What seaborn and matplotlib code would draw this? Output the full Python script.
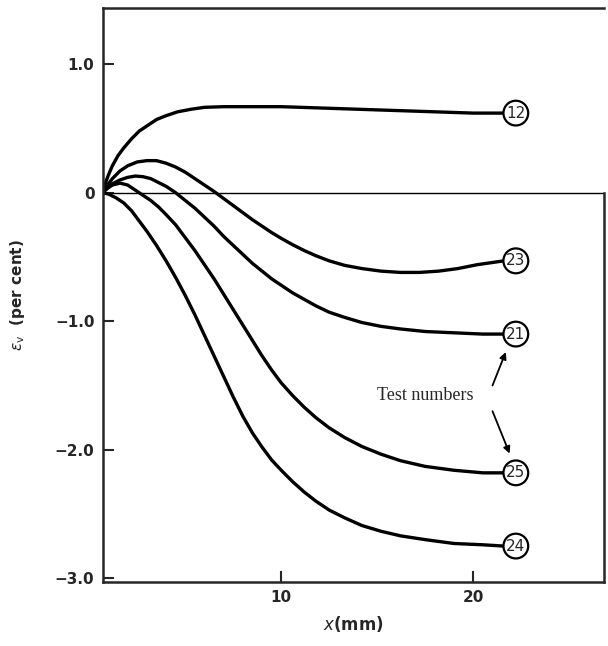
# volumetric strain vs distance, one curve per test, circled test numbers at the ends

import matplotlib
matplotlib.use("Agg")
import matplotlib.pyplot as plt
import pandas as pd
import seaborn as sns

TESTS = ["12", "23", "21", "25", "24"]

x_12 = [0.7, 0.85, 1.0, 1.2, 1.5, 1.8, 2.2, 2.6, 3.0, 3.5, 4.0, 4.6, 5.3, 6.0, 7.0, 8.5, 10.0, 12.0, 14.0, 16.0, 18.0, 20.0, 21.6]
y_12 = [0.0, 0.08, 0.14, 0.21, 0.29, 0.35, 0.42, 0.48, 0.52, 0.57, 0.60, 0.63, 0.65, 0.665, 0.67, 0.67, 0.67, 0.66, 0.65, 0.64, 0.63, 0.62, 0.62]

x_23 = [0.7, 0.9, 1.2, 1.6, 2.0, 2.5, 3.0, 3.5, 4.0, 4.5, 5.0, 5.5, 6.0, 6.5, 7.0, 7.5, 8.0, 8.5, 9.0, 9.5, 10.0,
        10.6, 11.2, 11.8, 12.5, 13.3, 14.2, 15.2, 16.2, 17.2, 18.2, 19.2, 20.2, 21.6]
y_23 = [0.0, 0.05, 0.11, 0.17, 0.21, 0.24, 0.25, 0.25, 0.23, 0.20, 0.16, 0.11, 0.06, 0.01, -0.045, -0.10, -0.155, -0.21, -0.26, -0.31, -0.355,
        -0.405, -0.45, -0.49, -0.53, -0.565, -0.59, -0.61, -0.62, -0.62, -0.61, -0.59, -0.56, -0.53]

x_21 = [0.7, 0.9, 1.2, 1.6, 2.0, 2.4, 2.8, 3.2, 3.6, 4.0, 4.5, 5.0, 5.5, 6.0, 6.5, 7.0, 7.5, 8.0, 8.5, 9.0, 9.5, 10.0,
        10.6, 11.2, 11.8, 12.5, 13.3, 14.2, 15.2, 16.2, 17.5, 19.0, 20.5, 21.6]
y_21 = [0.0, 0.03, 0.07, 0.10, 0.12, 0.13, 0.125, 0.11, 0.08, 0.05, 0.0, -0.06, -0.12, -0.19, -0.26, -0.34, -0.41, -0.48, -0.55, -0.61, -0.67, -0.72,
        -0.78, -0.83, -0.88, -0.93, -0.97, -1.01, -1.04, -1.06, -1.08, -1.09, -1.10, -1.10]

x_25 = [0.7, 0.9, 1.2, 1.6, 2.0, 2.4, 2.8, 3.2, 3.6, 4.0, 4.5, 5.0, 5.5, 6.0, 6.5, 7.0, 7.5, 8.0, 8.5, 9.0, 9.5, 10.0,
        10.6, 11.2, 11.8, 12.5, 13.3, 14.2, 15.2, 16.2, 17.5, 19.0, 20.5, 21.6]
y_25 = [0.0, 0.03, 0.06, 0.075, 0.06, 0.02, -0.02, -0.06, -0.11, -0.17, -0.25, -0.35, -0.45, -0.56, -0.67, -0.79, -0.91, -1.03, -1.15, -1.27, -1.38, -1.48,
        -1.58, -1.67, -1.75, -1.83, -1.905, -1.975, -2.035, -2.085, -2.13, -2.16, -2.18, -2.18]

x_24 = [0.7, 1.0, 1.4, 1.8, 2.2, 2.6, 3.0, 3.5, 4.0, 4.5, 5.0, 5.5, 6.0, 6.5, 7.0, 7.5, 8.0, 8.5, 9.0, 9.5, 10.0,
        10.6, 11.2, 11.8, 12.5, 13.3, 14.2, 15.2, 16.2, 17.5, 19.0, 20.5, 21.6]
y_24 = [0.0, -0.01, -0.04, -0.08, -0.14, -0.22, -0.30, -0.41, -0.53, -0.66, -0.80, -0.95, -1.11, -1.27, -1.43, -1.59, -1.74, -1.87, -1.98, -2.08, -2.16,
        -2.25, -2.33, -2.40, -2.47, -2.53, -2.59, -2.635, -2.67, -2.70, -2.73, -2.74, -2.75]

y_ticks = [1.0, 0.0, -1.0, -2.0, -3.0]
y_tick_labels = ["1.0", "0", "\u22121.0", "\u22122.0", "\u22123.0"]
x_ticks = [10, 20]
x_tick_labels = ["10", "20"]


def main():
    sns.set_style("ticks")
    plt.rcParams["font.family"] = ["DejaVu Sans"]

    curves = {
        "12": (x_12, y_12),
        "23": (x_23, y_23),
        "21": (x_21, y_21),
        "25": (x_25, y_25),
        "24": (x_24, y_24),
    }
    rows = []
    for test in TESTS:
        xs, ys = curves[test]
        for xv, yv in zip(xs, ys):
            rows.append({"test": test, "x": xv, "ev": yv})
    df = pd.DataFrame(rows)

    fig = plt.figure(figsize=(6.08, 6.46), dpi=100)
    ax = fig.add_axes([0.169, 0.099, 0.824, 0.889])

    ax.axhline(0, color="black", lw=1.0, zorder=1)

    sns.lineplot(
        data=df, x="x", y="ev", units="test", estimator=None, sort=False,
        color="black", lw=2.4, ax=ax, legend=False,
    )

    for test in TESTS:
        xs, ys = curves[test]
        ax.text(
            xs[-1] + 0.62, ys[-1], test, ha="center", va="center", fontsize=11,
            bbox=dict(boxstyle="circle,pad=0.18", fc="white", ec="black", lw=1.6),
            zorder=5,
        )

    ax.text(17.5, -1.58, "Test numbers", ha="center", va="center",
            fontsize=13, family="Liberation Serif")
    arrow = dict(arrowstyle="-|>", color="black", lw=1.3, mutation_scale=10)
    ax.annotate("", xy=(21.75, -1.22), xytext=(20.95, -1.52), arrowprops=arrow)
    ax.annotate("", xy=(21.95, -2.05), xytext=(20.95, -1.68), arrowprops=arrow)

    ax.set_xlim(0.7, 26.8)
    ax.set_ylim(-3.03, 1.44)
    ax.set_xticks(x_ticks)
    ax.set_xticklabels(x_tick_labels, fontsize=11, fontweight="bold")
    ax.set_yticks(y_ticks)
    ax.set_yticklabels(y_tick_labels, fontsize=11, fontweight="bold")
    ax.tick_params(direction="in", length=8, width=1.5, pad=6)

    ax.set_xlabel("$x$(mm)", fontsize=12, fontweight="bold", labelpad=6)
    ax.set_ylabel("$\\epsilon_{\\rm v}$  (per cent)", fontsize=11, fontweight="bold", labelpad=20)

    for side in ["left", "right", "top", "bottom"]:
        ax.spines[side].set_linewidth(1.8)
        ax.spines[side].set_visible(True)
    ax.spines["right"].set_bounds(-3.03, 0.0)

    fig.savefig("out.png", dpi=100)
    plt.close(fig)


if __name__ == "__main__":
    main()
